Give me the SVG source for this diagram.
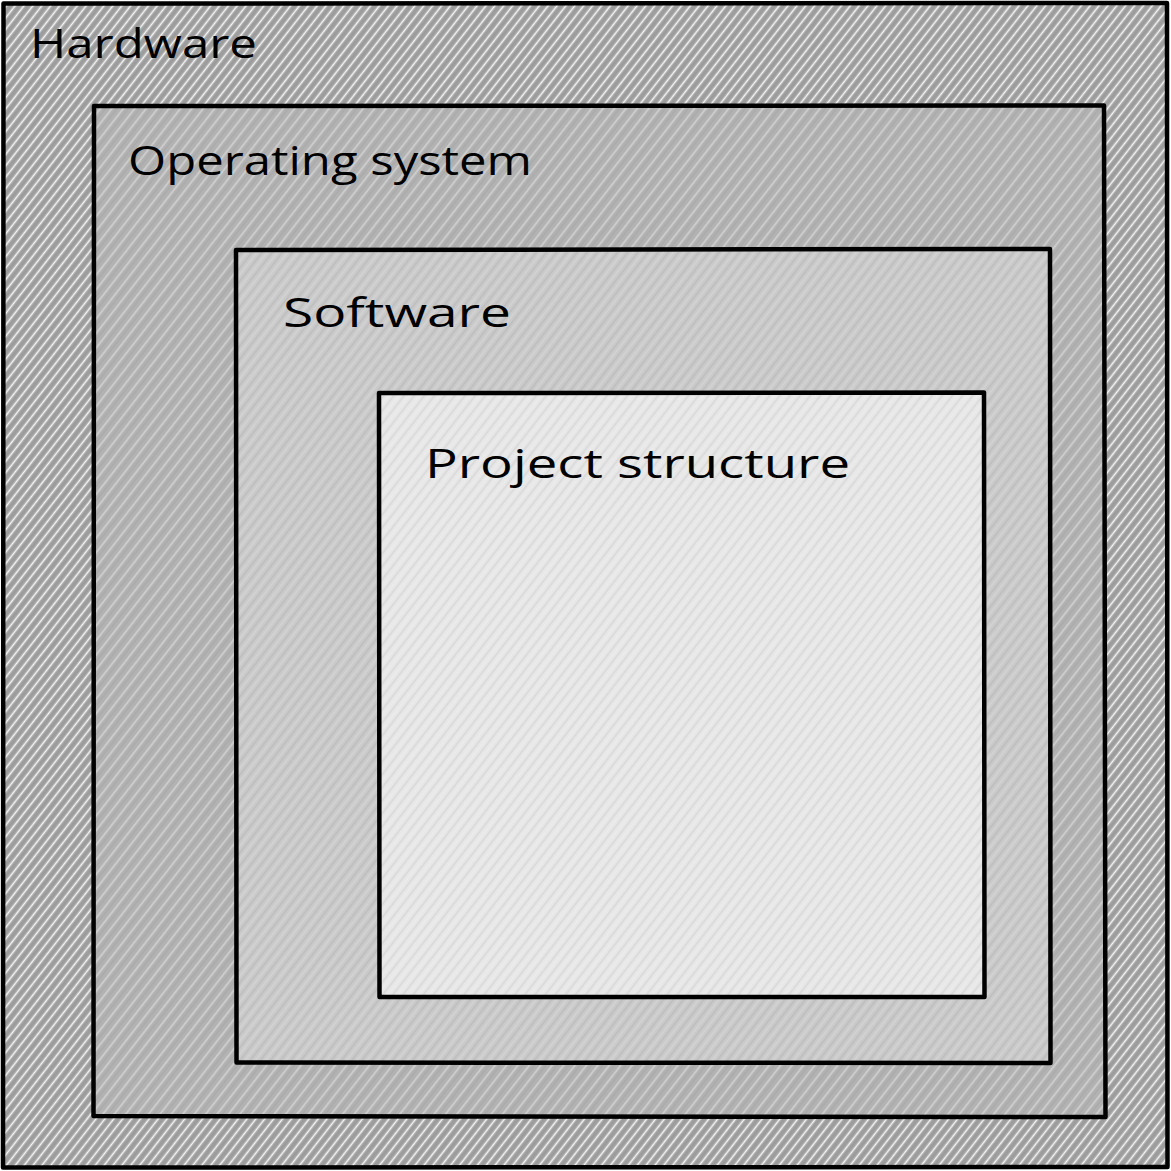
<svg xmlns="http://www.w3.org/2000/svg" width="1171" height="1171" viewBox="0 0 1171 1171">
<style>
.box{stroke:#000;stroke-width:4.5;stroke-linejoin:round;stroke-linecap:round}
.lbl{font-family:"Open Sans","Liberation Sans",sans-serif;font-size:40px;fill:#000}
</style>
<defs>
<pattern id="pHw" width="7" height="7" patternUnits="userSpaceOnUse" patternTransform="rotate(-52)">
<rect width="7" height="7" fill="#a0a0a0"/>
<line x1="0" y1="1.5" x2="7" y2="1.5" stroke="#ffffff" stroke-width="1.6" stroke-opacity="0.9"/>
<line x1="0" y1="5" x2="7" y2="5" stroke="#8e8e8e" stroke-width="1" stroke-opacity="0.5"/>
</pattern>
<pattern id="pOs" width="9" height="9" patternUnits="userSpaceOnUse" patternTransform="rotate(-52)">
<rect width="9" height="9" fill="#b2b2b2"/>
<line x1="0" y1="2" x2="9" y2="2" stroke="#ffffff" stroke-width="1.1" stroke-opacity="0.6"/>
<line x1="0" y1="6" x2="9" y2="6" stroke="#9c9c9c" stroke-width="1" stroke-opacity="0.55"/>
</pattern>
<pattern id="pSw" width="8" height="8" patternUnits="userSpaceOnUse" patternTransform="rotate(-52)">
<rect width="8" height="8" fill="#cacaca"/>
<line x1="0" y1="2" x2="8" y2="2" stroke="#adadad" stroke-width="1" stroke-opacity="0.7"/>
<line x1="0" y1="6" x2="8" y2="6" stroke="#e2e2e2" stroke-width="0.8" stroke-opacity="0.7"/>
</pattern>
<pattern id="pPr" width="8" height="8" patternUnits="userSpaceOnUse" patternTransform="rotate(-52)">
<rect width="8" height="8" fill="#e7e7e7"/>
<line x1="0" y1="2" x2="8" y2="2" stroke="#c6c6c6" stroke-width="0.9" stroke-opacity="0.8"/>
<line x1="0" y1="6" x2="8" y2="6" stroke="#f3f3f3" stroke-width="0.8" stroke-opacity="0.7"/>
</pattern>
</defs>
<g id="hardware">
<path class="box" fill="url(#pHw)" d="M3.5 3.5 L1167 3 L1167.5 1167 L3 1167.5 Z"/>
<text class="lbl" x="30" y="58" textLength="227" lengthAdjust="spacingAndGlyphs">Hardware</text>
</g>
<g id="operating-system">
<path class="box" fill="url(#pOs)" d="M94 106 L1104 105.5 L1105.5 1117 L93.5 1116 Z"/>
<text class="lbl" x="128" y="175" textLength="404" lengthAdjust="spacingAndGlyphs">Operating system</text>
</g>
<g id="software">
<path class="box" fill="url(#pSw)" d="M236 250 L1050 249 L1050.5 1063 L236.5 1062.5 Z"/>
<text class="lbl" x="283" y="327" textLength="228" lengthAdjust="spacingAndGlyphs">Software</text>
</g>
<g id="project-structure">
<path class="box" fill="url(#pPr)" d="M379 393 L984 392.5 L984.5 997 L379.5 997 Z"/>
<text class="lbl" x="425" y="478" textLength="425" lengthAdjust="spacingAndGlyphs">Project structure</text>
</g>
<g id="connectors"/>
</svg>
